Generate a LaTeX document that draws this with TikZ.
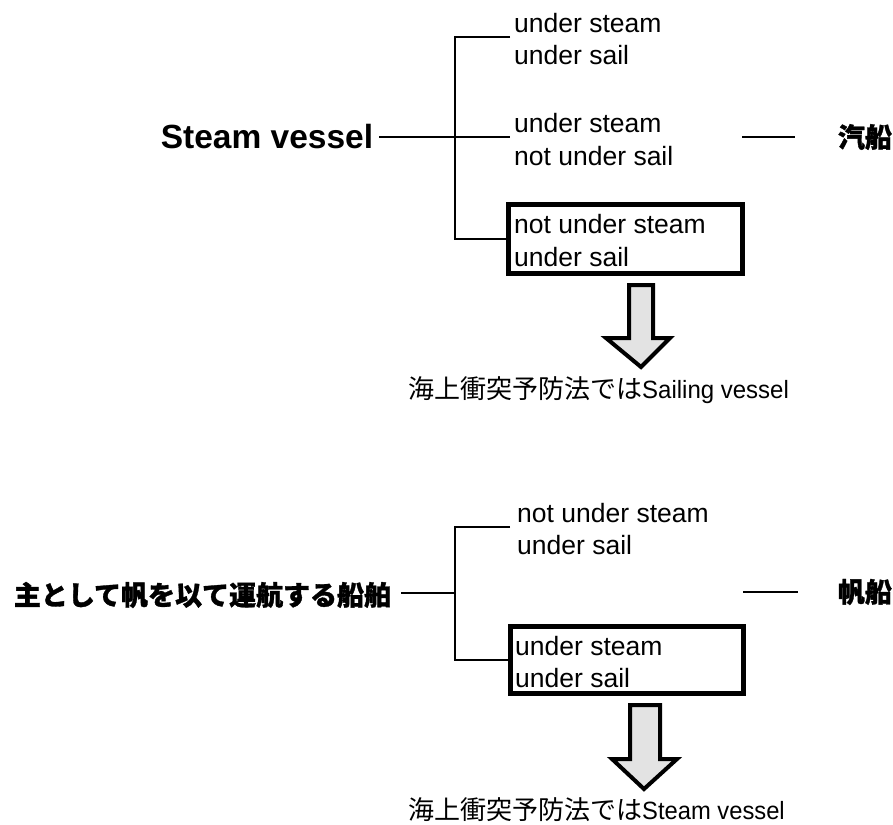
\documentclass[tikz,border=0pt]{standalone}
\usepackage{fontspec}
\setmainfont{Liberation Sans}
\newfontfamily\jp{Noto Sans CJK JP}[BoldFeatures={FakeBold=1.2}]
\tikzset{
  conn/.style={line width=2.2pt},
  lab/.style={anchor=base west, inner sep=0, font=\fontsize{26.5}{26.5}\selectfont},
  vbox/.style={draw, line width=5pt, minimum width=234pt, minimum height=69pt, inner sep=0},
  barrow/.style={draw, line width=4pt, fill=gray!22, line join=miter},
  head/.style={inner sep=0, font=\fontsize{33.5}{33.5}\selectfont\bfseries},
  jhead/.style={inner sep=0, font=\jp\bfseries\fontsize{27}{27}\selectfont},
  captext/.style={anchor=west, inner sep=0, font=\fontsize{25}{25}\selectfont}
}
\begin{document}
\begin{tikzpicture}[x=1pt,y=-1pt]
\useasboundingbox[fill=white] (0,0) rectangle (893,824);

% ---------- top part ----------
\node[head] (sv) at (267,137) {Steam vessel};
\coordinate (j1) at (455,137);
\coordinate (b1) at (455,37);
\coordinate (e1) at (510,37);
\coordinate (e2) at (510,137);
\coordinate (b3) at (455,239);

\node[lab] (t1a) at (514,33) {under steam};
\node[lab] (t1b) at (514,65) {under sail};
\node[lab] (t2a) at (514,132) {under steam};
\node[lab] (t2b) at (514,165) {not under sail};

\node[vbox, minimum width=234pt, minimum height=69pt] (box1) at (625.5,239) {};
\node[lab] (t3a) at (514,233) {not under steam};
\node[lab] (t3b) at (514,266) {under sail};

\draw[conn] ([xshift=6pt]sv.east |- j1) -- (j1) -- (e2);
\draw[conn] (e1) -- (b1) -- (b3) -- (box1.west);

\node[jhead] (kisen) at (865,137) {汽船};
\coordinate (d1a) at (742,137);
\coordinate (d1b) at (795,137);
\draw[conn] (d1a) -- (d1b);

\draw[barrow] (629,285) -- (653,285) -- (653,338) -- (670,338) -- (641,367)
  -- (606,338) -- (629,338) -- cycle;

\node[captext] (c1) at (408,390) {{\jp\fontsize{26}{26}\selectfont 海上衝突予防法では}\scalebox{0.96}[1]{Sailing vessel}};

% ---------- bottom part ----------
\node[jhead] (main) at (202.5,595) {主として帆を以て運航する船舶};
\coordinate (j2) at (455,593);
\coordinate (b4) at (455,527);
\coordinate (e4) at (510,527);
\coordinate (b5) at (455,660);

\node[lab] (t4a) at (517,522) {not under steam};
\node[lab] (t4b) at (517,554) {under sail};

\node[vbox, minimum width=233pt, minimum height=67pt] (box2) at (627,660) {};
\node[lab] (t5a) at (515,655) {under steam};
\node[lab] (t5b) at (515,687) {under sail};

\draw[conn] ([xshift=10pt]main.east |- j2) -- (j2);
\draw[conn] (e4) -- (b4) -- (b5) -- (box2.west);

\node[jhead] (hansen) at (865,592) {帆船};
\coordinate (d2a) at (743,592);
\coordinate (d2b) at (798,592);
\draw[conn] (d2a) -- (d2b);

\draw[barrow] (630,705) -- (660,705) -- (660,759) -- (677,759) -- (644,789)
  -- (612,759) -- (630,759) -- cycle;

\node[captext] (c2) at (408,810) {{\jp\fontsize{26}{26}\selectfont 海上衝突予防法では}\scalebox{0.95}[1]{Steam vessel}};
\end{tikzpicture}
\end{document}
